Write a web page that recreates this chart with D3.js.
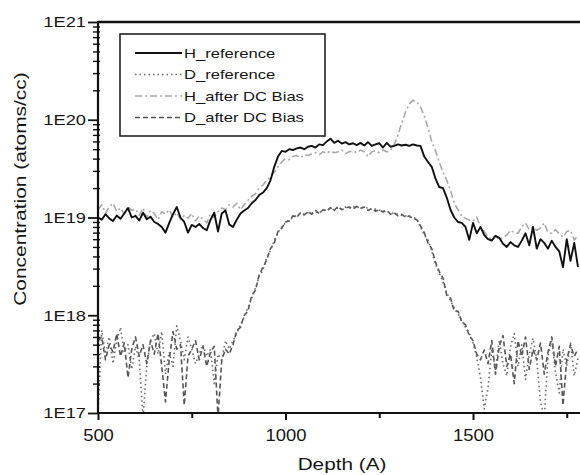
<!DOCTYPE html>
<html>
<head>
<meta charset="utf-8">
<script src="https://cdn.jsdelivr.net/npm/d3@7"></script>
<style>
  body { margin: 0; background: #fff; }
  text { font-family: "Liberation Sans", Arial, sans-serif; fill: #161616; }
</style>
</head>
<body>
<div id="chart"></div>
<script>
// depth grid (A), one sample every 10 A
const depth = d3.range(500, 1781, 10);

// concentrations in units of 1E17 atoms/cc
const hReference = [
  100, 95, 108, 98, 92, 105, 97, 110, 125, 100,
  104, 93, 112, 96, 102, 90, 86, 80, 70, 88,
  108, 128, 100, 90, 70, 84, 80, 86, 78, 74,
  95, 112, 72, 110, 118, 85, 80, 95, 110, 118,
  125, 140, 151, 170, 180, 200, 240, 330, 420, 480,
  470, 500, 490, 510, 520, 500, 530, 540, 520, 560,
  550, 600, 640, 580, 610, 570, 590, 560, 575, 550,
  580, 545, 590, 540, 560, 575, 520, 580, 530, 540,
  560, 545, 555, 540, 560, 545, 540, 420, 370, 330,
  250, 205, 200, 160, 120, 100, 90, 88, 80, 59,
  88, 69, 80, 66, 60, 58, 65, 62, 54, 50,
  56, 52, 50, 58, 69, 52, 80, 48, 60, 55,
  48, 58, 50, 45, 31, 60, 36, 55, 31
];
const dReference = [
  1.0, 7.0, 4.0, 6.0, 3.2, 5.5, 7.5, 4.2, 5.0, 2.8,
  4.8, 3.5, 0.9, 3.0, 5.5, 6.5, 4.0, 6.8, 2.5, 4.2,
  3.0, 7.8, 5.5, 3.5, 6.0, 4.5, 3.2, 4.0, 5.0, 3.8,
  4.5, 2.0, 4.0, 3.5, 5.5, 4.5, 5.5, 6.5, 8.0, 9.6,
  12, 15, 19, 25, 29, 39, 46, 58, 70, 80,
  88, 95, 100, 105, 110, 108, 112, 111, 115, 112,
  118, 120, 124, 120, 126, 122, 128, 125, 130, 126,
  128, 124, 126, 120, 122, 119, 118, 115, 112, 110,
  108, 105, 104, 101, 100, 98, 80, 66, 59, 45,
  33, 27, 22, 17, 14, 12, 10.4, 9, 7.5, 6.6,
  5.2, 3.7, 2.3, 1.1, 1.8, 4.5, 2.8, 5.5, 3.2, 2.4,
  4.8, 6.5, 3.0, 5.0, 2.2, 4.0, 5.8, 3.5, 1.3, 0.9,
  3.8, 5.5, 2.6, 1.6, 4.5, 3.0, 5.2, 2.4, 3.6
];
const hAfterBias = [
  120, 135, 110, 128, 140, 115, 125, 108, 130, 118,
  122, 105, 125, 100, 118, 110, 95, 115, 108, 120,
  100, 112, 95, 105, 98, 110, 92, 104, 96, 88,
  110, 100, 115, 125, 120, 135, 128, 140, 120, 135,
  150, 165, 175, 200, 215, 240, 260, 290, 330, 370,
  400, 390, 420, 430, 410, 440, 430, 450, 460, 440,
  470, 455, 480, 460, 470, 490, 450, 470, 480, 460,
  490, 470, 420, 470, 480, 460, 490, 470, 480, 560,
  700, 930, 1200, 1450, 1580, 1520, 1350, 1100, 820, 600,
  480, 370, 290, 240, 190, 140, 120, 103, 98, 94,
  92, 101, 80, 72, 63, 60, 65, 59, 63, 66,
  74, 70, 69, 80, 88, 75, 80, 74, 78, 88,
  70, 69, 75, 68, 63, 72, 74, 59, 65
];
const dAfterBias = [
  5.5, 6.0, 3.5, 5.0, 4.2, 6.5, 3.8, 5.2, 2.3, 4.5,
  6.0, 3.8, 5.0, 3.2, 5.5, 4.0, 6.5, 3.0, 1.3, 3.5,
  6.8, 4.5, 5.0, 1.2, 3.8, 4.5, 5.5, 3.5, 4.8, 3.0,
  4.2, 4.8, 0.9, 3.5, 4.5, 4.0, 5.0, 7.0, 7.5, 10,
  11, 16, 18, 26, 31, 37, 48, 55, 72, 78,
  90, 92, 104, 100, 112, 106, 115, 108, 118, 110,
  120, 116, 126, 118, 130, 120, 125, 128, 122, 130,
  124, 128, 118, 124, 116, 120, 114, 118, 108, 112,
  104, 108, 100, 104, 98, 95, 82, 70, 55, 48,
  35, 28, 24, 16, 15, 11, 11, 8.5, 8.0, 6.2,
  5.5, 4.0, 3.5, 4.4, 3.2, 5.5, 2.5, 4.8, 6.2, 3.0,
  4.0, 2.0, 5.5, 3.8, 6.0, 2.8, 4.5, 3.5, 5.2, 2.5,
  4.2, 6.0, 3.0, 4.8, 1.2, 3.5, 5.0, 3.8, 4.5
];
const unit = 1e17;

const seriesNames = ["H_reference", "D_reference", "H_after DC Bias", "D_after DC Bias"];
const xTicks = [500, 1000, 1500];
const xMinorTicks = [750, 1250, 1750];
const yTicks = [1e17, 1e18, 1e19, 1e20, 1e21];

const series = [
  { name: seriesNames[0], values: hReference, color: "#111", width: 1.9, dash: null },
  { name: seriesNames[1], values: dReference, color: "#6a6a6a", width: 1.6, dash: "1.5,3" },
  { name: seriesNames[2], values: hAfterBias, color: "#a8a8a8", width: 1.6, dash: "7,3,2,3" },
  { name: seriesNames[3], values: dAfterBias, color: "#555", width: 1.6, dash: "5,3" }
];

const margin = { top: 22, left: 98 };
const W = 580, H = 475;
const plotBottom = 413;
const stretch = 1.22; // the lettering is drawn wide

const svg = d3.select("#chart").append("svg")
  .attr("width", W).attr("height", H);

const x = d3.scaleLinear().domain([500, 2000]).range([margin.left, margin.left + 562.5]);
const y = d3.scaleLog().domain([1e17, 1e21]).range([plotBottom, margin.top]);

svg.append("clipPath").attr("id", "plotclip")
  .append("rect")
  .attr("x", margin.left).attr("y", margin.top)
  .attr("width", W - margin.left).attr("height", plotBottom - margin.top);

// curves
const line = d3.line()
  .x((d, i) => x(depth[i]))
  .y(d => y(d * unit));

const curves = svg.append("g").attr("clip-path", "url(#plotclip)");
curves.selectAll("path")
  .data(series.slice().reverse())
  .enter().append("path")
  .attr("d", d => line(d.values))
  .attr("fill", "none")
  .attr("stroke", d => d.color)
  .attr("stroke-width", d => d.width)
  .attr("stroke-dasharray", d => d.dash)
  .attr("stroke-linejoin", "round");

// x axis
const xAxis = svg.append("g")
  .attr("transform", "translate(0," + plotBottom + ")")
  .call(d3.axisBottom(x).tickValues(xTicks).tickFormat(d3.format("d"))
    .tickSize(7).tickSizeOuter(0).tickPadding(10));
xAxis.select(".domain").remove();
xAxis.selectAll("text")
  .style("font-size", "16px")
  .attr("transform", "scale(1.15,1)");
xAxis.selectAll("line").attr("stroke", "#111").attr("stroke-width", 2);
svg.append("g")
  .attr("transform", "translate(0," + plotBottom + ")")
  .call(d3.axisBottom(x).tickValues(xMinorTicks).tickSize(5).tickFormat(""))
  .call(g => g.select(".domain").remove())
  .selectAll("line").attr("stroke", "#111").attr("stroke-width", 2);

// y axis
const fmt = d => "1E" + Math.round(Math.log10(d));
const yAxis = svg.append("g")
  .attr("transform", "translate(" + margin.left + ",0)")
  .call(d3.axisLeft(y).tickValues(yTicks).tickFormat(fmt).tickSize(10).tickPadding(2));
yAxis.select(".domain").remove();
yAxis.selectAll("text")
  .style("font-size", "15px")
  .attr("x", 0)
  .attr("transform", "translate(-12,0) scale(" + stretch + ",1)");
yAxis.selectAll("line").attr("stroke", "#111").attr("stroke-width", 1.8);

const yMinor = [];
for (let e = 17; e < 21; e++) for (let m = 2; m <= 9; m++) yMinor.push(m * Math.pow(10, e));
svg.append("g")
  .attr("transform", "translate(" + margin.left + ",0)")
  .call(d3.axisLeft(y).tickValues(yMinor).tickSize(5).tickFormat(""))
  .call(g => g.select(".domain").remove())
  .selectAll("line").attr("x1", 2).attr("stroke", "#111").attr("stroke-width", 1.4);

// frame lines
svg.append("line")
  .attr("x1", margin.left).attr("x2", margin.left)
  .attr("y1", margin.top - 1).attr("y2", plotBottom + 1)
  .attr("stroke", "#111").attr("stroke-width", 2.2);
svg.append("line")
  .attr("x1", margin.left).attr("x2", W)
  .attr("y1", plotBottom).attr("y2", plotBottom)
  .attr("stroke", "#111").attr("stroke-width", 2.2);
svg.append("line")
  .attr("x1", margin.left).attr("x2", W)
  .attr("y1", margin.top).attr("y2", margin.top)
  .attr("stroke", "#111").attr("stroke-width", 2.4);

// axis titles
svg.append("text")
  .attr("transform", "translate(342,470) scale(" + stretch + ",1)")
  .attr("text-anchor", "middle")
  .style("font-size", "17px")
  .text("Depth (A)");
svg.append("text")
  .attr("transform", "translate(26,189) rotate(-90) scale(1.23,1)")
  .attr("text-anchor", "middle")
  .style("font-size", "17px")
  .text("Concentration (atoms/cc)");

// legend
const legend = svg.append("g");
legend.append("rect")
  .attr("x", 120).attr("y", 34)
  .attr("width", 205).attr("height", 102)
  .attr("fill", "#fff")
  .attr("stroke", "#222").attr("stroke-width", 1.6);
const rows = legend.selectAll("g.row")
  .data(series)
  .enter().append("g")
  .attr("class", "row")
  .attr("transform", (d, i) => "translate(0," + (53 + i * 21.5) + ")");
rows.append("line")
  .attr("x1", 135).attr("x2", 182)
  .attr("stroke", d => d.color)
  .attr("stroke-width", d => d.width)
  .attr("stroke-dasharray", d => d.dash);
rows.append("text")
  .attr("transform", "translate(184,0) scale(1.23,1)")
  .attr("dy", "0.36em")
  .style("font-size", "13.5px")
  .text(d => d.name);
</script>
</body>
</html>
